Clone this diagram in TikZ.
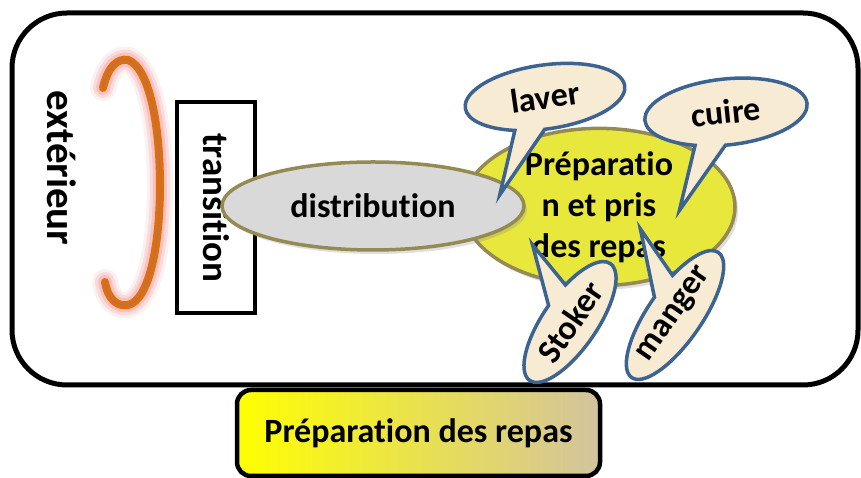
\documentclass[tikz,border=0pt]{standalone}
\usepackage{fontspec}
\setmainfont{Carlito}[Ligatures={NoCommon}]
\usetikzlibrary{shapes.geometric,shapes.callouts,shadows}
\definecolor{olivebd}{HTML}{948A54}
\definecolor{dgray}{HTML}{D9D9D9}
\definecolor{ylw}{HTML}{E8E83C}
\definecolor{bubblefill}{HTML}{F7EBD3}
\definecolor{bubbleline}{HTML}{3D6391}
\definecolor{orng}{HTML}{E46C0A}
\definecolor{glowc}{HTML}{F2A0A0}
\definecolor{tanc}{HTML}{D3C39E}
\definecolor{beigec}{HTML}{F2EBD5}
\begin{document}
\begin{tikzpicture}[x=1pt,y=1pt,
  txt/.style={font=\fontsize{#1}{#1}\selectfont\bfseries},
  bubble/.style={ellipse callout, draw=bubbleline, line width=3.5pt, fill=bubblefill,
    inner sep=0pt, callout pointer arc=22, txt=34},
  blob/.style={ellipse, draw=olivebd, line width=3.5pt, inner sep=0pt,
    drop shadow={opacity=0.25, shadow xshift=3pt, shadow yshift=-4pt}},
  brack/.style={line cap=round}
]
\useasboundingbox (0,0) rectangle (861,478);
% frame
\node[draw, line width=5pt, fill=white, rounded corners=55pt, inner sep=0pt,
  minimum width=846pt, minimum height=372pt] (frame) at (435,279) {};
% bracket glow
\def\brpath{(103,390) .. controls (108,412) and (118,420) .. (128,418) .. controls (150,410) and (160,350) .. (160,293) .. controls (160,236) and (150,178) .. (128,173) .. controls (118,171) and (108,178) .. (105,196)}
\draw[brack, glowc, line width=26pt, opacity=0.15] \brpath;
\draw[brack, glowc, line width=20pt, opacity=0.25] \brpath;
\draw[brack, glowc, line width=14pt, opacity=0.4] \brpath;
\draw[brack, orng, line width=8pt] \brpath;
\draw[brack, gray, line width=0.8pt] \brpath;
\node[txt=41, rotate=-90] (ext) at (62,310) {extérieur};
% transition
\node[draw, line width=4.5pt, fill=white, rotate=-90, inner sep=0pt,
  minimum width=211pt, minimum height=78pt, txt=37] (trans) at (216,270.5) {transition};
% yellow blob
\node[blob, fill=ylw, minimum width=272pt, minimum height=150pt,
  align=center, font=\fontsize{34}{41}\selectfont\bfseries] (prep) at (599,271)
  {Préparatio\\n et pris\\des repas};
% distribution
\node[blob, fill=dgray, minimum width=302pt, minimum height=88pt, txt=34] (dist) at (373,272) {distribution};
% callouts
\node[bubble, minimum width=161pt, minimum height=64pt, rotate=8,
  callout relative pointer={(-38.5pt,-59.7pt)}] (laver) at (545,381) {laver};
\node[bubble, minimum width=163pt, minimum height=66pt, rotate=6,
  callout relative pointer={(-37.2pt,-61.1pt)}] (cuire) at (726,366) {cuire};
\node[bubble, minimum width=142pt, minimum height=54pt, rotate=55.4,
  callout relative pointer={(27.4pt,48.4pt)}] (stoker) at (570,156) {Stoker};
\node[bubble, minimum width=151pt, minimum height=54pt, rotate=55.3,
  callout relative pointer={(33.8pt,51.3pt)}] (manger) at (675,163) {manger};
% bottom box
\node[draw, line width=4.5pt, rounded corners=14pt, inner sep=0pt,
  left color=yellow, middle color=beigec, right color=tanc,
  minimum width=363pt, minimum height=86pt, txt=34] (title) at (418.5,45) {Préparation des repas};
\end{tikzpicture}
\end{document}
